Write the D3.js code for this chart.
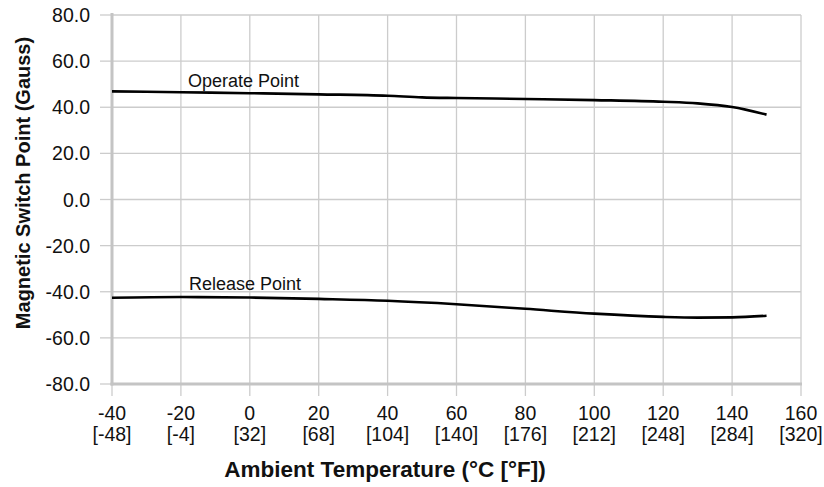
<!DOCTYPE html>
<html>
<head>
<meta charset="utf-8">
<script src="https://cdn.jsdelivr.net/npm/d3@7"></script>
<style>
  body { margin: 0; background: #fff; }
  svg { display: block; font-family: "Liberation Sans", Arial, Helvetica, sans-serif; }
</style>
</head>
<body>
<svg id="chart" width="824" height="487"></svg>
<script>
// ---- data ----
const tempC = [-40, -20, 0, 20, 40, 50, 60, 80, 100, 120, 130, 140, 150];
const operatePoint = [46.9, 46.5, 46.1, 45.6, 45.0, 44.3, 44.0, 43.6, 43.1, 42.4, 41.7, 40.1, 36.8];
const releaseTemp = [-40, -20, 0, 20, 40, 60, 80, 100, 120, 130, 140, 150];
const releasePoint = [-42.6, -42.3, -42.5, -43.1, -43.9, -45.4, -47.4, -49.5, -50.9, -51.2, -51.1, -50.4];
const xTicksC = [-40, -20, 0, 20, 40, 60, 80, 100, 120, 140, 160];
const xTicksF = ["[-48]", "[-4]", "[32]", "[68]", "[104]", "[140]", "[176]", "[212]", "[248]", "[284]", "[320]"];
const yTicks = [80, 60, 40, 20, 0, -20, -40, -60, -80];
const seriesLabels = ["Operate Point", "Release Point"];

(function () {
const svg = d3.select("#chart");
const pL = 112, pR = 801, pT = 15, pB = 384;

const x = d3.scaleLinear().domain([-40, 160]).range([pL, pR]);
const y = d3.scaleLinear().domain([-80, 80]).range([pB, pT]);

const grid = svg.append("g");
grid.selectAll("line.v").data(xTicksC.slice(1)).enter().append("line")
  .attr("x1", d => x(d)).attr("x2", d => x(d))
  .attr("y1", pT).attr("y2", pB)
  .attr("stroke", "#cccccc").attr("stroke-width", 1.3);
grid.selectAll("line.h").data(yTicks.slice(0, -1)).enter().append("line")
  .attr("x1", pL).attr("x2", pR)
  .attr("y1", d => y(d)).attr("y2", d => y(d))
  .attr("stroke", "#cccccc").attr("stroke-width", 1.3);

grid.selectAll("line.yt").data(yTicks).enter().append("line")
  .attr("x1", pL - 12).attr("x2", pL)
  .attr("y1", d => y(d)).attr("y2", d => y(d))
  .attr("stroke", "#cccccc").attr("stroke-width", 1.3);
grid.selectAll("line.xt").data(xTicksC).enter().append("line")
  .attr("x1", d => x(d)).attr("x2", d => x(d))
  .attr("y1", pB).attr("y2", pB + 12)
  .attr("stroke", "#cccccc").attr("stroke-width", 1.3);

svg.append("line").attr("x1", pL).attr("x2", pL).attr("y1", pT - 2).attr("y2", pB + 1.5)
  .attr("stroke", "#c4c4c4").attr("stroke-width", 3);
svg.append("line").attr("x1", pL - 1.5).attr("x2", pR + 1).attr("y1", pB).attr("y2", pB)
  .attr("stroke", "#c4c4c4").attr("stroke-width", 3);

const tickFont = 19.5;
svg.selectAll("text.yl").data(yTicks).enter().append("text")
  .attr("x", 90).attr("y", d => y(d) + 7)
  .attr("text-anchor", "end").attr("font-size", tickFont).attr("fill", "#111")
  .text(d => d.toFixed(1));

const xl = svg.selectAll("g.xl").data(xTicksC).enter().append("g");
xl.append("text").attr("x", d => x(d)).attr("y", 420)
  .attr("text-anchor", "middle").attr("font-size", tickFont).attr("fill", "#111")
  .text(d => d);
xl.append("text").attr("x", d => x(d)).attr("y", 441)
  .attr("text-anchor", "middle").attr("font-size", tickFont).attr("fill", "#111")
  .text((d, i) => xTicksF[i]);

svg.append("text").attr("x", 385).attr("y", 477).attr("text-anchor", "middle")
  .attr("font-size", 22.5).attr("font-weight", "bold").attr("fill", "#111")
  .text("Ambient Temperature (°C [°F])");
svg.append("text").attr("transform", "translate(30,183) rotate(-90)")
  .attr("text-anchor", "middle").attr("font-size", 20).attr("font-weight", "bold").attr("fill", "#111")
  .text("Magnetic Switch Point (Gauss)");

const line = d3.line().x(d => x(d[0])).y(d => y(d[1])).curve(d3.curveMonotoneX);
svg.append("path").datum(tempC.map((t, i) => [t, operatePoint[i]]))
  .attr("d", line).attr("fill", "none").attr("stroke", "#000").attr("stroke-width", 2.6);
svg.append("path").datum(releaseTemp.map((t, i) => [t, releasePoint[i]]))
  .attr("d", line).attr("fill", "none").attr("stroke", "#000").attr("stroke-width", 2.6);

svg.append("text").attr("x", 188).attr("y", 87).attr("font-size", 18).attr("fill", "#111")
  .text(seriesLabels[0]);
svg.append("text").attr("x", 189).attr("y", 290).attr("font-size", 18).attr("fill", "#111")
  .text(seriesLabels[1]);
})();
</script>
</body>
</html>
